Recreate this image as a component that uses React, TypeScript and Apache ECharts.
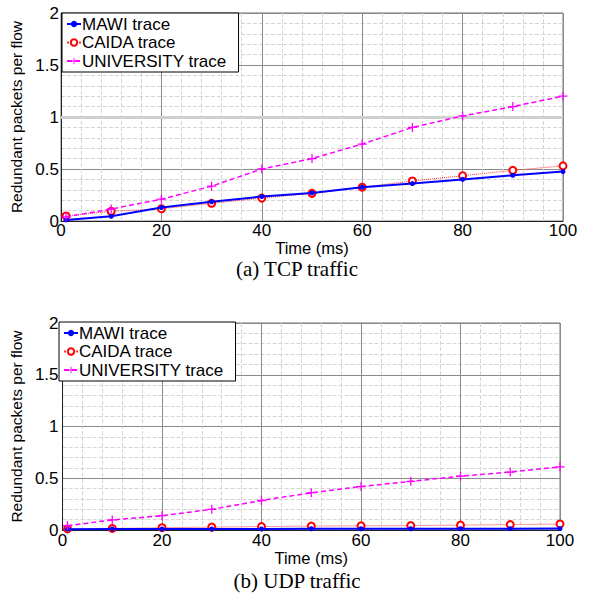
import React, { useEffect, useRef } from "react";
import * as echarts from "echarts";

const timeMs = [1, 10, 20, 30, 40, 50, 60, 70, 80, 90, 100];
const seriesNames = ["MAWI trace", "CAIDA trace", "UNIVERSITY trace"];

const tcpMawi = [0.01, 0.045, 0.13, 0.185, 0.235, 0.27, 0.325, 0.36, 0.4, 0.44, 0.475];
const tcpCaida = [0.048, 0.093, 0.118, 0.17, 0.22, 0.266, 0.325, 0.385, 0.435, 0.487, 0.53];
const tcpUniv = [0.04, 0.115, 0.21, 0.335, 0.5, 0.6, 0.74, 0.9, 1.01, 1.1, 1.2];

const udpMawi = [0.008, 0.01, 0.01, 0.01, 0.01, 0.012, 0.012, 0.012, 0.013, 0.013, 0.014];
const udpCaida = [0.01, 0.015, 0.022, 0.028, 0.033, 0.038, 0.04, 0.043, 0.047, 0.052, 0.058];
const udpUniv = [0.042, 0.097, 0.138, 0.2, 0.285, 0.36, 0.42, 0.47, 0.52, 0.56, 0.61];

const captions = ["(a) TCP traffic", "(b) UDP traffic"];
const xName = "Time (ms)";
const yName = "Redundant packets per flow";

const SANS = "'Liberation Sans', Arial, Helvetica, sans-serif";
const SERIF = "'Liberation Serif', 'Times New Roman', serif";
const PLUS = "path://M4.3,0H5.7V4.3H10V5.7H5.7V10H4.3V5.7H0V4.3H4.3Z";

const pairs = (ys: number[]) => timeMs.map((x, i) => [x, ys[i]]);

export default function App() {
  const ref = useRef<HTMLDivElement>(null);
  useEffect(() => {
    document.body.style.margin = "0";
    if (!ref.current) return;
    const chart = echarts.init(ref.current, undefined, { renderer: "svg" });

    const grids = [
      { left: 61, top: 13, width: 502, height: 208 },
      { left: 58, top: 323, width: 502, height: 207 },
    ];

    const mkX = (gi: number) => ({
      type: "value",
      gridIndex: gi,
      min: 0,
      max: 100,
      interval: 20,
      name: xName,
      nameLocation: "middle",
      nameGap: gi === 0 ? 14 : 17,
      nameTextStyle: { fontFamily: SANS, fontSize: 16.5, color: "#000", lineHeight: 16 },
      axisLine: { show: true, lineStyle: { color: "#222", width: 1 } },
      axisTick: { show: false },
      axisLabel: { fontFamily: SANS, fontSize: 17, color: "#000", margin: gi === 0 ? 1 : 2 },
      splitLine: { show: true, lineStyle: { color: "#8a8a8a", width: 1 } },
      minorTick: { show: false, splitNumber: 5 },
      minorSplitLine: { show: true, lineStyle: { color: "#d4d4d4", type: "dashed", width: 1 } },
    });
    const mkY = (gi: number) => ({
      type: "value",
      gridIndex: gi,
      min: 0,
      max: 2,
      interval: 0.5,
      name: yName,
      nameLocation: "middle",
      nameGap: gi === 0 ? 30 : 31,
      nameTextStyle: { fontFamily: SANS, fontSize: 15.5, color: "#000" },
      axisLine: { show: true, lineStyle: { color: "#222", width: 1 } },
      axisTick: { show: false },
      axisLabel: { fontFamily: SANS, fontSize: 17, color: "#000", margin: gi === 0 ? 2 : 4 },
      splitLine: { show: true, lineStyle: { color: "#8a8a8a", width: 1 } },
      minorTick: { show: false, splitNumber: 5 },
      minorSplitLine: { show: true, lineStyle: { color: "#d4d4d4", type: "dashed", width: 1 } },
    });

    const mkSeries = (gi: number, mawi: number[], caida: number[], univ: number[]) => [
      {
        name: seriesNames[1],
        type: "line",
        xAxisIndex: gi,
        yAxisIndex: gi,
        data: pairs(caida),
        symbol: "emptyCircle",
        symbolSize: 7,
        lineStyle: { color: "#ff3030", width: 1, type: "dotted" },
        itemStyle: { color: "#ff0000", borderWidth: 1.5 },
        z: 3,
      },
      {
        name: seriesNames[0],
        type: "line",
        xAxisIndex: gi,
        yAxisIndex: gi,
        data: pairs(mawi),
        symbol: "circle",
        symbolSize: 5,
        lineStyle: { color: "#0000ff", width: 2 },
        itemStyle: { color: "#0000ff" },
        z: 4,
      },
      {
        name: seriesNames[2],
        type: "line",
        xAxisIndex: gi,
        yAxisIndex: gi,
        data: pairs(univ),
        symbol: PLUS,
        symbolSize: 9,
        lineStyle: { color: "#ff00ff", width: 1.5, type: [5, 3] },
        itemStyle: { color: "#ff00ff" },
        z: 5,
        markLine:
          gi === 0
            ? {
                silent: true,
                symbol: "none",
                label: { show: false },
                lineStyle: { color: "#d0d0d0", width: 3, type: "solid" },
                data: [{ yAxis: 1 }],
                z: 1,
              }
            : undefined,
      },
    ];

    const mkLegend = (left: number, top: number) => ({
      orient: "vertical",
      left,
      top,
      data: seriesNames,
      itemWidth: 14,
      itemHeight: 8,
      itemGap: 1.5,
      padding: [2.5, 12, 2.5, 4],
      borderColor: "#000",
      borderWidth: 1,
      backgroundColor: "#fff",
      textStyle: { fontFamily: SANS, fontSize: 17, color: "#000", lineHeight: 17, padding: [0, 0, 0, -4] },
      selectedMode: false,
      z: 10,
    });

    chart.setOption({
      animation: false,
      backgroundColor: "#fff",
      grid: grids.map((g) => ({
        ...g,
        show: true,
        borderColor: "#777",
        borderWidth: 1,
        backgroundColor: "transparent",
      })),
      xAxis: [mkX(0), mkX(1)],
      yAxis: [mkY(0), mkY(1)],
      legend: [mkLegend(62, 13), mkLegend(59, 322)],
      series: [
        ...mkSeries(0, tcpMawi, tcpCaida, tcpUniv),
        ...mkSeries(1, udpMawi, udpCaida, udpUniv),
      ],
      graphic: [
        {
          type: "text",
          left: "center",
          top: 258,
          style: { text: captions[0], font: `21px ${SERIF}`, fill: "#000", lineHeight: 20 },
        },
        {
          type: "text",
          left: "center",
          top: 570,
          style: { text: captions[1], font: `21px ${SERIF}`, fill: "#000", lineHeight: 20 },
        },
      ],
    });
    return () => chart.dispose();
  }, []);
  return <div ref={ref} style={{ width: 595, height: 597 }} />;
}
